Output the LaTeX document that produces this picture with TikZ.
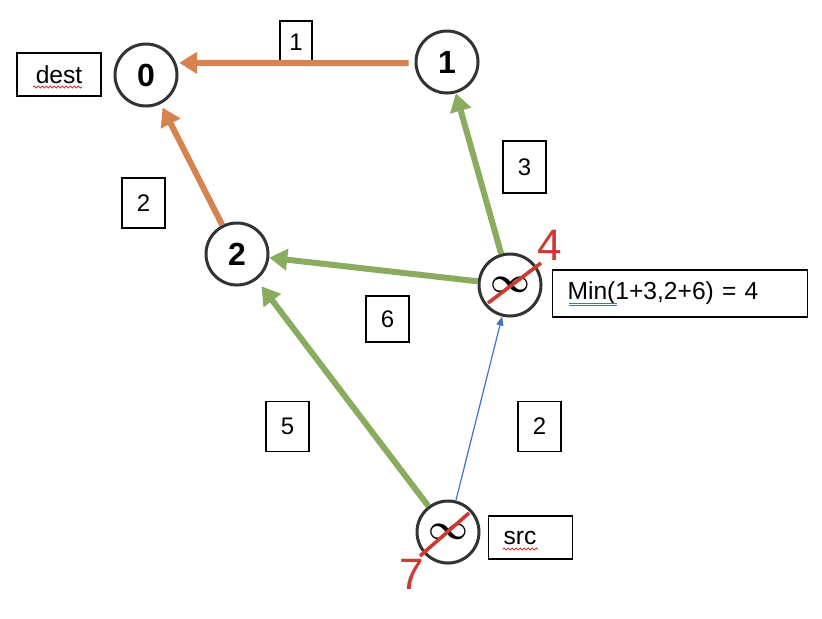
\documentclass[tikz,border=0pt]{standalone}
\usepackage{amsmath}
\usepackage{fontspec}
\setmainfont{Liberation Sans}
\usetikzlibrary{arrows.meta,calc,decorations.pathmorphing}
\definecolor{edgeorange}{RGB}{214,132,79}
\definecolor{edgegreen}{RGB}{138,172,95}
\definecolor{edgeblue}{RGB}{68,114,196}
\definecolor{crossred}{RGB}{205,58,50}

\begin{document}
\begin{tikzpicture}[x=0.5pt,y=-0.5pt,
	vertex/.style={shape=circle,draw=black!80,line width=1.5pt,fill=white,minimum size=31pt,inner sep=0pt,font=\fontsize{16}{16}\selectfont\bfseries},
	weight/.style={draw=black,line width=0.6pt,inner sep=0pt,minimum width=21.5pt,minimum height=25pt,font=\fontsize{12}{14}\selectfont},
	tag/.style={draw=black,line width=0.6pt,inner xsep=7.5pt,inner ysep=0pt,minimum height=21.5pt,align=left,font=\fontsize{12.3}{14}\selectfont},
	thick edge/.style={line width=3pt,-{Triangle[length=9pt,width=10.5pt]}},
	cross/.style={draw=crossred,line width=1.8pt},
	scribble/.style={text=crossred,font=\fontsize{22}{22}\selectfont},
	spell/.style={line width=0.5pt,decorate,decoration={snake,amplitude=0.5pt,segment length=2pt}}]
	
	\useasboundingbox (0,0) rectangle (822,618);
	
	\node[vertex] (v0) at (146,75)   {0};
	\node[vertex] (v1) at (447,62)   {1};
	\node[vertex] (v2) at (237,254)  {2};
	\node[vertex] (v3) at (510,285)  {\fontsize{19}{19}\selectfont$\boldsymbol{\infty}$};
	\node[vertex] (src) at (448,532) {\fontsize{19}{19}\selectfont$\boldsymbol{\infty}$};
	
	\node[tag,minimum width=42pt] (dest) at (59,74.5) {dest};
	\node[tag,text width=27pt,anchor=west] (srctag) at (488,537.5) {src};
	\node[tag,text width=112.5pt,minimum height=23.5pt,anchor=west] (mintag) at (552,293.5) {Min(1+3,2+6) = 4};
	
	\node[weight,minimum width=16pt,minimum height=21pt] (w10) at (296,42) {1};
	\node[weight] (w20) at (143.5,203)            {2};
	\node[weight,minimum height=26pt] (w31) at (524.5,167) {3};
	\node[weight,minimum height=23pt] (w32) at (387.5,319) {6};
	\node[weight] (w52) at (287.5,426.5)          {5};
	\node[weight] (w53) at (539.5,426.5)          {2};
	
	\draw[thick edge,color=edgeorange,shorten <=3pt,shorten >=1.5pt] (v1.182) -- (v0.22);
	\draw[thick edge,color=edgeorange,shorten >=2pt] (v2) -- (v0);
	\draw[thick edge,color=edgegreen] (v3) -- (v1);
	\draw[thick edge,color=edgegreen] (v3) -- (v2);
	\draw[thick edge,color=edgegreen,shorten >=4pt] (src) -- (v2);
	\draw[line width=0.6pt,color=edgeblue,-{Triangle[length=4.5pt,width=3.5pt]}] (src) -- (v3);
	
	% crossed out distances
	\draw[cross] ($(v3)+(-22,18)$) -- ($(v3)+(31,-22)$);
	\draw[cross] ($(src)+(-28,24)$) -- ($(src)+(21,-19)$);
	\node[scribble] (four) at (550,245)  {4};
	\node[scribble] (seven) at (412,574) {7};
	
	\draw[spell,crossred] (33,87) -- (82,87);
	\draw[spell,crossred] (503,549) -- (538,549);
	\draw[edgeblue,line width=0.5pt] (569,303) -- (617,303);
	\draw[edgeblue,line width=0.5pt] (569,305.5) -- (617,305.5);
	
\end{tikzpicture}
\end{document}
